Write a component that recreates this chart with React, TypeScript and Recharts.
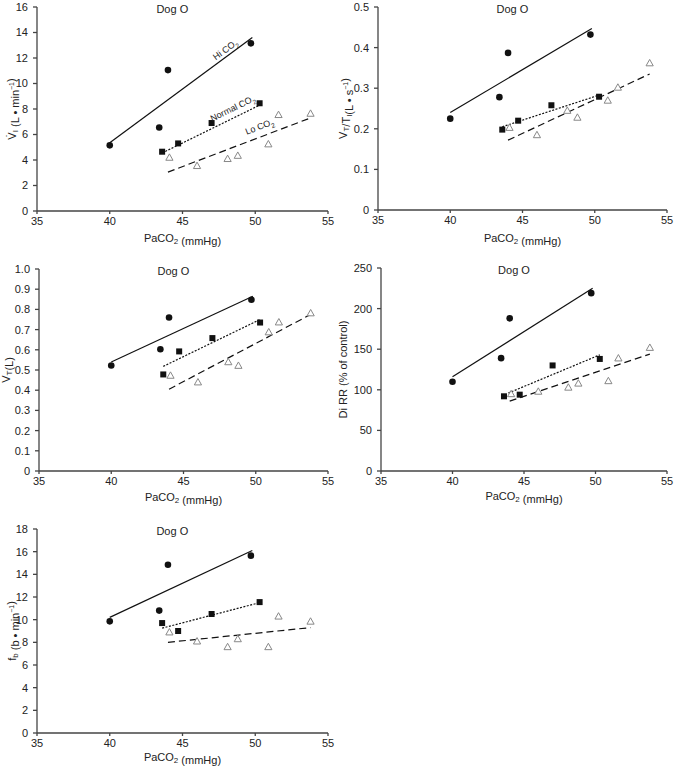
import { ScatterChart, Scatter, XAxis, YAxis, ReferenceLine, ReferenceDot } from 'recharts'

const FONT = "'Liberation Sans', Arial, Helvetica, sans-serif"

const xTicks = [35, 40, 45, 50, 55]

// PaCO2 of each run, per CO2 condition
const paco2Hi = [40, 43.4, 44, 49.7]
const paco2Normal = [43.6, 44.7, 47, 50.3]
const paco2Lo = [44.1, 46, 48.1, 48.8, 50.9, 51.6, 53.8]
// x ends of the fitted lines
const fitXHi = [40, 49.8]
const fitXNormal = [43.6, 50.3]
const fitXLo = [44, 53.8]

// VI (L/min)
const viTicks = [0, 2, 4, 6, 8, 10, 12, 14, 16]
const viHi = [5.15, 6.55, 11.05, 13.15]
const viNormal = [4.65, 5.3, 6.9, 8.45]
const viLo = [4.2, 3.55, 4.1, 4.35, 5.25, 7.55, 7.65]
const viFitHi = [5.35, 13.6]
const viFitNormal = [4.55, 8.3]
const viFitLo = [3.05, 7.3]

// VT/TI (L/s)
const vtiTicks = [0, 0.1, 0.2, 0.3, 0.4, 0.5]
const vtiHi = [0.225, 0.278, 0.387, 0.432]
const vtiNormal = [0.198, 0.22, 0.258, 0.279]
const vtiLo = [0.203, 0.185, 0.245, 0.228, 0.27, 0.302, 0.362]
const vtiFitHi = [0.24, 0.447]
const vtiFitNormal = [0.205, 0.283]
const vtiFitLo = [0.172, 0.335]

// VT (L)
const vtTicks = [0, 0.1, 0.2, 0.3, 0.4, 0.5, 0.6, 0.7, 0.8, 0.9, 1.0]
const vtHi = [0.522, 0.603, 0.76, 0.848]
const vtNormal = [0.478, 0.592, 0.658, 0.735]
const vtLo = [0.473, 0.44, 0.54, 0.522, 0.688, 0.737, 0.782]
const vtFitHi = [0.54, 0.865]
const vtFitNormal = [0.518, 0.75]
const vtFitLo = [0.405, 0.775]

// Di RR (% of control)
const diTicks = [0, 50, 100, 150, 200, 250]
const diHi = [110, 139, 188, 219]
const diNormal = [92, 94, 130, 138]
const diLo = [95, 98, 103, 108, 111, 139, 152]
const diFitXNormal = [43.9, 50.3]
const diFitHi = [116, 225]
const diFitNormal = [96, 143]
const diFitLo = [86, 144]

// fb (b/min)
const fbTicks = [0, 2, 4, 6, 8, 10, 12, 14, 16, 18]
const fbHi = [9.85, 10.8, 14.85, 15.65]
const fbNormal = [9.7, 9.0, 10.5, 11.55]
const fbLo = [8.9, 8.1, 7.6, 8.3, 7.6, 10.3, 9.85]
const fbFitHi = [10.2, 16.1]
const fbFitNormal = [9.25, 11.5]
const fbFitLo = [8.0, 9.3]

const zip = (xs: number[], ys: number[]) => xs.map((x, i) => ({ x, y: ys[i] }))
const seg = (xs: number[], ys: number[]) => [{ x: xs[0], y: ys[0] }, { x: xs[1], y: ys[1] }]

const Circle = (p: any) => <circle cx={p.cx} cy={p.cy} r={3.3} fill="#111" />
const Square = (p: any) => <rect x={p.cx - 3} y={p.cy - 3} width={6} height={6} fill="#111" />
const Triangle = (p: any) => (
  <polygon
    points={`${p.cx},${p.cy - 3.6} ${p.cx + 3.6},${p.cy + 2.8} ${p.cx - 3.6},${p.cy + 2.8}`}
    fill="#fff" stroke="#888" strokeWidth={1}
  />
)

const sub = (s: string, size = 8, k = 's') => [
  <tspan key={k + 'a'} dy={3} fontSize={size}>{s}</tspan>,
  <tspan key={k + 'b'} dy={-3}>{''}</tspan>,
]
const sup = (s: string) => [
  <tspan key="c" dy={-4} fontSize={7}>{s}</tspan>,
  <tspan key="d" dy={4}>{''}</tspan>,
]

const yTitles: Record<string, any> = {
  vi: <>{'V\u0307'}{sub('I')}<tspan> (L • min</tspan>{sup('−1')}<tspan>)</tspan></>,
  vti: <>V{sub('T')}<tspan>/T</tspan>{sub('I', 8, 'i')}<tspan>(L • s</tspan>{sup('−1')}<tspan>)</tspan></>,
  vt: <>V{sub('T')}<tspan>(L)</tspan></>,
  di: <>Di RR (% of control)</>,
  fb: <>f{sub('b')}<tspan> (b • min</tspan>{sup('−1')}<tspan>)</tspan></>,
}

const fmt1 = (v: number) => (v === 0 ? '0' : v.toFixed(1))
const fmt0 = (v: number) => String(v)

interface Cfg {
  key: string
  left: number; top: number; width: number; height: number
  mt: number; mr: number; yw: number; xh: number; ylx: number; xly: number
  ticks: number[]; fmt: (v: number) => string
  hi: number[]; normal: number[]; lo: number[]
  fitHi: number[]; fitNormal: number[]; fitLo: number[]
  fitXNormal?: number[]
  tags?: boolean
}

const panels: Cfg[] = [
  { key: 'vi', left: 0, top: 0, width: 340, height: 251, mt: 7, mr: 12, yw: 37, xh: 40, ylx: 12, xly: 27,
    ticks: viTicks, fmt: fmt0, hi: viHi, normal: viNormal, lo: viLo,
    fitHi: viFitHi, fitNormal: viFitNormal, fitLo: viFitLo, tags: true },
  { key: 'vti', left: 335, top: 0, width: 340, height: 250, mt: 7, mr: 8, yw: 43, xh: 40, ylx: 8, xly: 28,
    ticks: vtiTicks, fmt: fmt1, hi: vtiHi, normal: vtiNormal, lo: vtiLo,
    fitHi: vtiFitHi, fitNormal: vtiFitNormal, fitLo: vtiFitLo },
  { key: 'vt', left: 0, top: 255, width: 340, height: 256, mt: 14, mr: 12, yw: 39, xh: 40, ylx: 6, xly: 26,
    ticks: vtTicks, fmt: fmt1, hi: vtHi, normal: vtNormal, lo: vtLo,
    fitHi: vtFitHi, fitNormal: vtFitNormal, fitLo: vtFitLo },
  { key: 'di', left: 335, top: 255, width: 340, height: 256, mt: 13, mr: 8, yw: 46, xh: 40, ylx: 8, xly: 25,
    ticks: diTicks, fmt: fmt0, hi: diHi, normal: diNormal, lo: diLo,
    fitHi: diFitHi, fitNormal: diFitNormal, fitLo: diFitLo, fitXNormal: diFitXNormal },
  { key: 'fb', left: 0, top: 510, width: 340, height: 256, mt: 19, mr: 12, yw: 37, xh: 33, ylx: 12, xly: 24,
    ticks: fbTicks, fmt: fmt0, hi: fbHi, normal: fbNormal, lo: fbLo,
    fitHi: fbFitHi, fitNormal: fbFitNormal, fitLo: fbFitLo },
]

const tagText = (label: any, angle: number) => (props: any) => {
  const { x, y } = props.viewBox
  return (
    <text x={x} y={y} transform={`rotate(${-angle} ${x} ${y})`} textAnchor="middle"
      dominantBaseline="central" fontSize={9} fontFamily={FONT} fill="#222">
      {label}
    </text>
  )
}

function Panel({ c }: { c: Cfg }) {
  const ymax = c.ticks[c.ticks.length - 1]
  const axis = { stroke: '#444', strokeWidth: 1.3 }
  const tick = { fontSize: 11, fill: '#222', fontFamily: FONT }
  return (
    <div style={{ position: 'absolute', left: c.left, top: c.top }}>
      <ScatterChart width={c.width} height={c.height} margin={{ top: c.mt, right: c.mr, left: 0, bottom: 0 }}>
        <XAxis type="number" dataKey="x" domain={[35, 55]} ticks={xTicks} height={c.xh}
          axisLine={axis} tickLine={axis} tickSize={3} tickMargin={3} tick={tick} interval={0}
          label={(p: any) => {
            const vb = p.viewBox
            return (
              <text x={vb.x + vb.width / 2} y={vb.y + c.xly} textAnchor="middle" dominantBaseline="central"
                fontSize={11} fontFamily={FONT} fill="#222">
                PaCO{sub('2')}<tspan> (mmHg)</tspan>
              </text>
            )
          }}
        />
        <YAxis type="number" dataKey="y" domain={[0, ymax]} ticks={c.ticks} width={c.yw}
          axisLine={axis} tickLine={axis} tickSize={4} tickMargin={5} tick={tick} interval={0}
          tickFormatter={c.fmt}
          label={(p: any) => {
            const vb = p.viewBox
            const x = vb.x + c.ylx
            const y = vb.y + vb.height / 2
            return (
              <text x={x} y={y} transform={`rotate(-90 ${x} ${y})`} textAnchor="middle"
                dominantBaseline="central" fontSize={11} fontFamily={FONT} fill="#222">
                {yTitles[c.key]}
              </text>
            )
          }}
        />
        <ReferenceLine segment={seg(fitXHi, c.fitHi)} stroke="#111" strokeWidth={1.2} />
        <ReferenceLine segment={seg(c.fitXNormal ?? fitXNormal, c.fitNormal)} stroke="#111" strokeWidth={1.2} strokeDasharray="2 1.5" />
        <ReferenceLine segment={seg(fitXLo, c.fitLo)} stroke="#111" strokeWidth={1.2} strokeDasharray="7 4" />
        <Scatter data={zip(paco2Lo, c.lo)} shape={Triangle} isAnimationActive={false} />
        <Scatter data={zip(paco2Normal, c.normal)} shape={Square} isAnimationActive={false} />
        <Scatter data={zip(paco2Hi, c.hi)} shape={Circle} isAnimationActive={false} />
        <ReferenceDot x={44.3} y={ymax} r={0} fill="none" stroke="none"
          label={(p: any) => (
            <text x={p.viewBox.x} y={p.viewBox.y + 2} textAnchor="middle" dominantBaseline="central"
              fontSize={11} fontFamily={FONT} fill="#222">Dog O</text>
          )}
        />
        {c.tags && (
          <ReferenceDot x={47.95} y={12.65} r={0} fill="none" stroke="none"
            label={tagText(<>Hi CO{sub('2', 6.5)}</>, 36)} />
        )}
        {c.tags && (
          <ReferenceDot x={48.45} y={8.05} r={0} fill="none" stroke="none"
            label={tagText(<>Normal CO{sub('2', 6.5)}</>, 26)} />
        )}
        {c.tags && (
          <ReferenceDot x={50.3} y={6.62} r={0} fill="none" stroke="none"
            label={tagText(<>Lo CO{sub('2', 6.5)}</>, 21)} />
        )}
      </ScatterChart>
    </div>
  )
}

export default function App() {
  return (
    <div style={{ position: 'absolute', left: 0, top: 0, width: 675, height: 766, background: '#fff', overflow: 'hidden' }}>
      {panels.map(c => <Panel key={c.key} c={c} />)}
    </div>
  )
}
